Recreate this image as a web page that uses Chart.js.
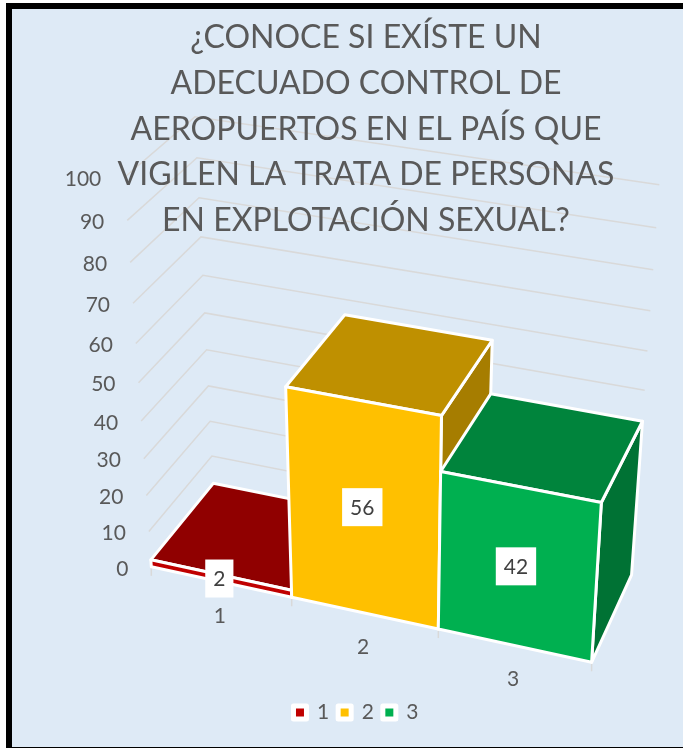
<!DOCTYPE html>
<html>
<head>
<meta charset="utf-8">
<script src="https://cdn.jsdelivr.net/npm/chart.js@4/dist/chart.umd.min.js"></script>
<style>
  html, body { margin: 0; background: #fff; overflow: hidden; }
  #frame { position: absolute; left: 6px; top: 3px; width: 683px; height: 738px; background: #DEEAF6;
           border: solid #000; border-width: 6px 0 2px 6px; }
  canvas { position: absolute; left: 0; top: 0; }
</style>
</head>
<body>
<div id="frame"></div>
<canvas id="chart" width="683" height="748"></canvas>
<script>
const titleLines = ['¿CONOCE SI EXÍSTE UN', 'ADECUADO CONTROL DE', 'AEROPUERTOS EN EL PAÍS QUE', 'VIGILEN LA TRATA DE PERSONAS', 'EN EXPLOTACIÓN SEXUAL?']
const categories = ['1', '2', '3']
const values = [2, 56, 42]
const barColors = ['#C00000', '#FFC000', '#00B050']

// camera for the fake 3d box, fitted to the picture: u = category position, v = height 0..1, w = depth 0..1
const cam = [134.17875, -39.70905, 75.02533, 151.31267, 17.73025, -407.4193, -47.54794, 566.83459, -0.02127, -0.10212, 0.05955]

function project(u, v, w) {
  const d = cam[8] * u + cam[9] * v + cam[10] * w + 1
  return [(cam[0] * u + cam[1] * v + cam[2] * w + cam[3]) / d, (cam[4] * u + cam[5] * v + cam[6] * w + cam[7]) / d]
}

function shade(hex, f) {
  const n = parseInt(hex.slice(1), 16)
  return 'rgb(' + [n >> 16, (n >> 8) & 255, n & 255].map(c => Math.round(c * f)).join(',') + ')'
}

function face(ctx, pts, fill) {
  ctx.beginPath()
  pts.forEach((p, i) => i ? ctx.lineTo(p[0], p[1]) : ctx.moveTo(p[0], p[1]))
  ctx.closePath()
  ctx.fillStyle = fill
  ctx.fill()
  ctx.strokeStyle = '#fff'
  ctx.lineWidth = 3
  ctx.lineJoin = 'round'
  ctx.stroke()
}

// flat chart positions -> box coordinates
function toU(chart, px) { const a = chart.chartArea; return (px - a.left) / a.width * categories.length }
function toV(chart, py) { const a = chart.chartArea; return (a.bottom - py) / a.height }

const box3d = {
  id: 'box3d',
  beforeDraw(chart) {
    const ctx = chart.ctx, y = chart.scales.y, x = chart.scales.x
    ctx.save()
    ctx.strokeStyle = '#D9D9D9'
    ctx.lineWidth = 1.5
    ctx.fillStyle = '#595959'
    ctx.font = '21px Lato'
    ctx.textBaseline = 'middle'
    ctx.textAlign = 'right'
    y.ticks.forEach(t => {
      const v = toV(chart, y.getPixelForValue(t.value))
      const a = project(0, v, 0), b = project(0, v, 1), c = project(categories.length, v, 1)
      ctx.beginPath(); ctx.moveTo(a[0], a[1]); ctx.lineTo(b[0], b[1]); ctx.lineTo(c[0], c[1]); ctx.stroke()
      ctx.fillText(t.label, a[0] - 23, a[1] + 2)
    })
    for (let i = 0; i <= categories.length; i++) {
      const p = project(i, 0, 0)
      ctx.beginPath(); ctx.moveTo(p[0], p[1]); ctx.lineTo(p[0], p[1] + 9); ctx.stroke()
    }
    ctx.textAlign = 'center'
    categories.forEach((c, i) => {
      const p = project(toU(chart, x.getPixelForValue(i)), 0, 0)
      ctx.fillText(c, p[0] - 1, p[1] + 34)
    })
    ctx.restore()
  },
  beforeDatasetDraw() { return false },
  afterDatasetsDraw(chart) {
    const ctx = chart.ctx
    const bars = chart.getDatasetMeta(0).data
    const fronts = []
    ctx.save()
    bars.forEach((bar, i) => {
      const u0 = toU(chart, bar.x - bar.width / 2), u1 = toU(chart, bar.x + bar.width / 2)
      const v0 = toV(chart, bar.base), v1 = toV(chart, bar.y)
      const col = barColors[i]
      const front = [project(u0, v0, 0), project(u1, v0, 0), project(u1, v1, 0), project(u0, v1, 0)]
      face(ctx, [project(u1, v0, 0), project(u1, v0, 1), project(u1, v1, 1), project(u1, v1, 0)], shade(col, 0.65))
      face(ctx, [project(u0, v1, 0), project(u1, v1, 0), project(u1, v1, 1), project(u0, v1, 1)], shade(col, 0.75))
      face(ctx, front, col)
      fronts.push(front)
    })
    // value labels sit on the middle of the front face, white box behind them
    ctx.font = '21px Lato'
    ctx.textAlign = 'center'
    ctx.textBaseline = 'middle'
    fronts.forEach((front, i) => {
      const cx = front.reduce((s, p) => s + p[0], 0) / 4 - 2
      const cy = front.reduce((s, p) => s + p[1], 0) / 4
      const text = String(values[i])
      const w = ctx.measureText(text).width + 16
      ctx.fillStyle = '#fff'
      ctx.fillRect(cx - w / 2, cy - 19, w, 38)
      ctx.fillStyle = '#404040'
      ctx.fillText(text, cx, cy + 1)
    })
    ctx.restore()
  }
}

new Chart(document.getElementById('chart'), {
  type: 'bar',
  data: {
    labels: categories,
    datasets: [{ data: values, backgroundColor: barColors, categoryPercentage: 1, barPercentage: 1 }]
  },
  options: {
    responsive: false,
    animation: false,
    layout: { padding: { left: 29, bottom: 15 } },
    scales: {
      x: { display: false },
      y: {
        min: 0, max: 100,
        ticks: { stepSize: 10, color: 'transparent' },
        grid: { display: false },
        border: { display: false },
        afterFit: s => { s.width = 20 }
      }
    },
    plugins: {
      title: {
        display: true,
        fullSize: false,
        text: titleLines,
        color: '#595959',
        font: { family: 'Lato', size: 32, weight: 'normal', lineHeight: 1.43 },
        padding: { top: 15, bottom: 10 }
      },
      legend: {
        position: 'bottom',
        labels: {
          color: '#595959',
          font: { family: 'Lato', size: 21 },
          boxWidth: 13,
          boxHeight: 13,
          padding: 9,
          generateLabels: () => categories.map((c, i) => ({
            text: c, fillStyle: barColors[i], strokeStyle: '#fff', lineWidth: 5, lineJoin: 'round', fontColor: '#595959', index: i
          }))
        }
      },
      tooltip: { enabled: false }
    }
  },
  plugins: [box3d]
})
</script>
</body>
</html>
